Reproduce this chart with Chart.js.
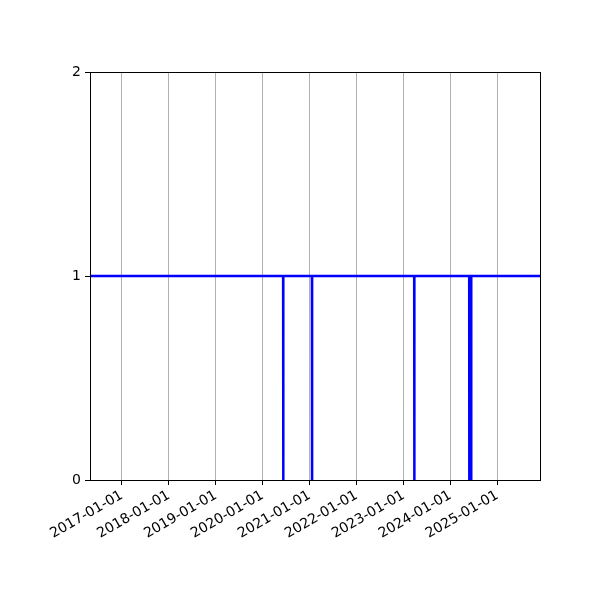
<!DOCTYPE html>
<html>
<head>
<meta charset="utf-8">
<script src="https://cdn.jsdelivr.net/npm/chart.js@4/dist/chart.umd.min.js"></script>
<style>
html,body{margin:0;padding:0;background:#fff;}
#wrap{width:600px;height:600px;}
</style>
</head>
<body>
<div id="wrap"><canvas id="c" width="600" height="600"></canvas></div>
<script>
const rangeStart = "2016-04-27";
const rangeEnd = "2025-11-28";
const dipStarts = ["2020-06-09", "2021-01-19", "2023-03-26", "2024-05-27"];
const dipEnds   = ["2020-06-09", "2021-01-19", "2023-03-26", "2024-06-10"];
const normalValue = 1;
const dipValue = 0;
const tickYears = [2017, 2018, 2019, 2020, 2021, 2022, 2023, 2024, 2025];
const yTicks = [0, 1, 2];

const DAY = 86400000;
const t = s => Date.parse(s + "T00:00:00Z");
const points = [{x: t(rangeStart), y: normalValue}];
for (let i = 0; i < dipStarts.length; i++) {
  const a = t(dipStarts[i]), b = t(dipEnds[i]);
  points.push({x: a - DAY, y: normalValue});
  points.push({x: a, y: dipValue});
  points.push({x: b, y: dipValue});
  points.push({x: b + DAY, y: normalValue});
}
points.push({x: t(rangeEnd), y: normalValue});

const frame = {
  id: 'frame',
  afterDraw(chart) {
    const {ctx, chartArea: a} = chart;
    ctx.save();
    ctx.strokeStyle = '#000';
    ctx.lineWidth = 1;
    ctx.strokeRect(Math.round(a.left) + 0.5, Math.round(a.top) + 0.5, Math.round(a.right - a.left), Math.round(a.bottom - a.top));
    ctx.restore();
  }
};

const font = {family: "'DejaVu Sans', sans-serif", size: 14};

new Chart(document.getElementById('c'), {
  type: 'line',
  data: {
    datasets: [{
      data: points,
      borderColor: '#0000ff',
      borderWidth: 2.5,
      pointRadius: 0,
      tension: 0,
      fill: false
    }]
  },
  options: {
    responsive: false,
    devicePixelRatio: 1,
    animation: false,
    parsing: true,
    layout: {padding: {left: 0, right: 60, top: 72, bottom: 0}},
    plugins: {legend: {display: false}, tooltip: {enabled: false}},
    scales: {
      x: {
        type: 'linear',
        min: t(rangeStart),
        max: t(rangeEnd),
        afterBuildTicks(scale) {
          scale.ticks = tickYears.map(y => ({value: Date.UTC(y, 0, 1)}));
        },
        afterFit(scale) { scale.height = 120; },
        ticks: {
          color: '#000',
          font: font,
          minRotation: 30,
          maxRotation: 30,
          autoSkip: false,
          padding: 2,
          callback(v) { return new Date(v).getUTCFullYear() + '-01-01'; }
        },
        grid: {color: '#b0b0b0', lineWidth: 1, tickColor: '#000', tickLength: 5, drawOnChartArea: true},
        border: {color: '#000', width: 1}
      },
      y: {
        min: 0,
        max: 2,
        afterBuildTicks(scale) {
          scale.ticks = yTicks.map(v => ({value: v}));
        },
        afterFit(scale) { scale.width = 90; },
        ticks: {color: '#000', font: font, padding: 4},
        grid: {drawOnChartArea: false, tickColor: '#000', tickLength: 5},
        border: {color: '#000', width: 1}
      }
    }
  },
  plugins: [frame]
});
</script>
</body>
</html>
